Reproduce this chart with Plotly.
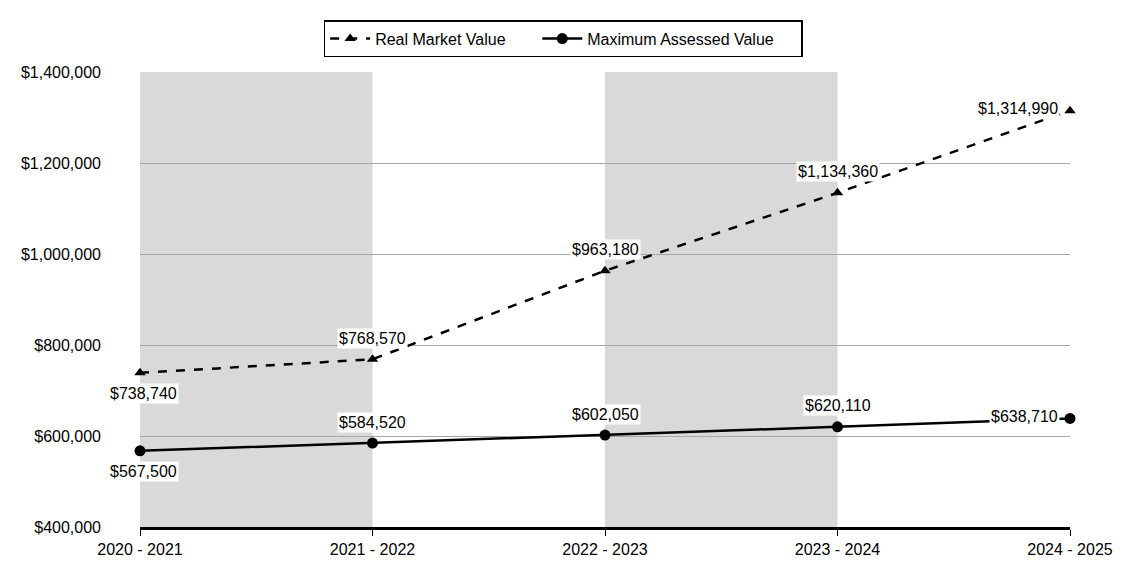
import plotly.graph_objects as go

categories = ["2020 - 2021", "2021 - 2022", "2022 - 2023", "2023 - 2024", "2024 - 2025"]
real_market = [738740, 768570, 963180, 1134360, 1314990]
max_assessed = [567500, 584520, 602050, 620110, 638710]
shaded_pairs = [(0, 1), (2, 3)]
series_names = ["Real Market Value", "Maximum Assessed Value"]

xs = list(range(len(categories)))
FONT = "Liberation Sans, Arial, sans-serif"
FS = 16

fig = go.Figure()
fig.add_trace(go.Scatter(
    x=xs, y=real_market, name=series_names[0] + "&nbsp;" * 6, mode="lines+markers",
    line=dict(color="black", width=2.5, dash="dash"),
    marker=dict(symbol="triangle-up", size=10, color="black"),
    cliponaxis=False,
))
fig.add_trace(go.Scatter(
    x=xs, y=max_assessed, name=series_names[1] + "&nbsp;" * 5, mode="lines+markers",
    line=dict(color="black", width=2.5),
    marker=dict(symbol="circle", size=11, color="black"),
    cliponaxis=False,
))

shapes = []
for a, b in shaded_pairs:
    shapes.append(dict(type="rect", xref="x", yref="paper", x0=a, x1=b, y0=0, y1=1,
                       fillcolor="#d9d9d9", line=dict(width=0), layer="below"))

annotations = []
def fmt(v):
    return "${:,}".format(v)

n = len(xs)
for series in (real_market, max_assessed):
    for i, v in enumerate(series):
        if i == 0:
            ann = dict(xshift=3, yshift=-21, xanchor="center", yanchor="middle")
        elif i == n - 1:
            ann = dict(xshift=-10, yshift=2, xanchor="right", yanchor="middle")
        else:
            ann = dict(xshift=0, yshift=21, xanchor="center", yanchor="middle")
        annotations.append(dict(x=xs[i], y=v, xref="x", yref="y", text=fmt(v),
                                showarrow=False, bgcolor="white", borderpad=1,
                                font=dict(family=FONT, size=FS, color="black"), **ann))

fig.update_layout(
    width=1117, height=562,
    margin=dict(l=132, r=48, t=63, b=35),
    paper_bgcolor="white", plot_bgcolor="white",
    font=dict(family=FONT, size=FS, color="black"),
    showlegend=True,
    legend=dict(orientation="h", x=0.455, xanchor="center", y=1.114, yanchor="top",
                bordercolor="black", borderwidth=1.5, bgcolor="white",
                font=dict(family=FONT, size=FS), itemwidth=40),
    shapes=shapes,
    annotations=annotations,
)
fig.update_xaxes(
    tickmode="array", tickvals=xs, ticktext=categories, range=[0, n - 1],
    showgrid=False, zeroline=False, showline=True, linecolor="black", linewidth=2.5,
    ticks="outside", ticklen=6, tickcolor="black", tickfont=dict(family=FONT, size=FS),
)
fig.update_yaxes(
    range=[400000, 1400000], dtick=200000, tickformat="$,d",
    showgrid=True, gridcolor="#a6a6a6", gridwidth=1, zeroline=False,
    showline=False, ticks="", ticklabelstandoff=38, tickfont=dict(family=FONT, size=FS),
)

fig.write_html("out.html")
